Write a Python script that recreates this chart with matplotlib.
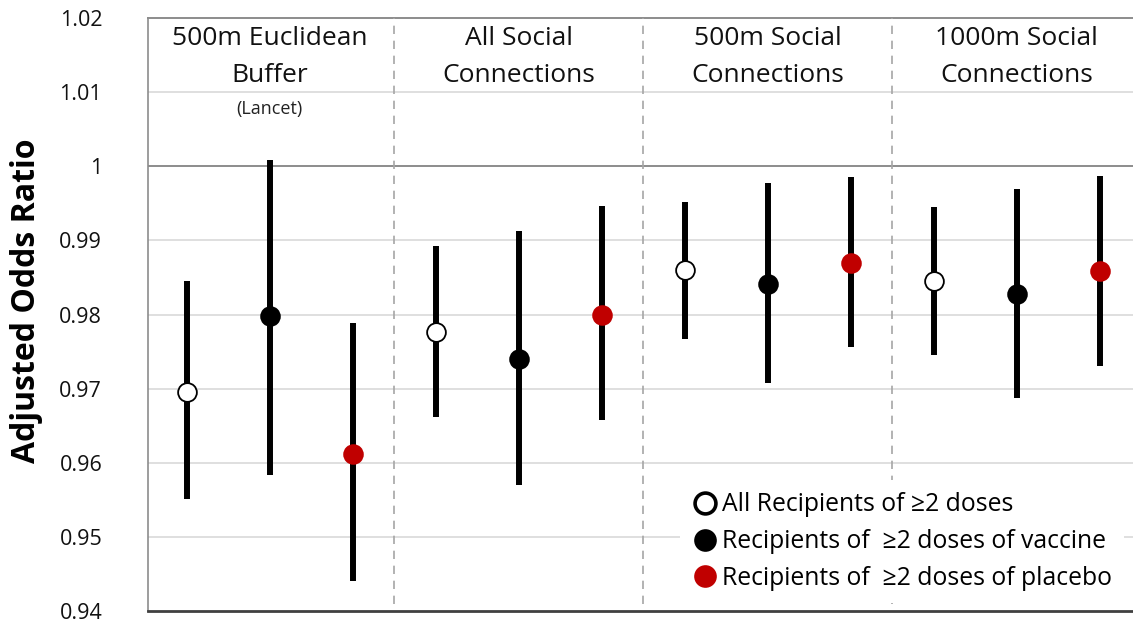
import matplotlib
matplotlib.use("Agg")
import matplotlib.pyplot as plt
from matplotlib.lines import Line2D

plt.rcParams['font.family'] = ['Open Sans', 'DejaVu Sans']

# groups and series
groups = ["500m Euclidean\nBuffer", "All Social\nConnections",
          "500m Social\nConnections", "1000m Social\nConnections"]
series = ["All Recipients of \u22652 doses",
          "Recipients of  \u22652 doses of vaccine",
          "Recipients of  \u22652 doses of placebo"]

# per group: [all, vaccine, placebo]
est = [[0.9696, 0.9798, 0.9612],
       [0.9777, 0.9740, 0.9800],
       [0.9860, 0.9841, 0.9870],
       [0.9845, 0.9827, 0.9859]]
lower = [[0.9551, 0.9584, 0.9441],
         [0.9662, 0.9570, 0.9657],
         [0.9767, 0.9708, 0.9756],
         [0.9746, 0.9687, 0.9731]]
upper = [[0.9845, 1.0009, 0.9788],
         [0.9893, 0.9912, 0.9946],
         [0.9952, 0.9977, 0.9985],
         [0.9945, 0.9969, 0.9987]]

face = ["white", "black", "#c00000"]
edge = ["black", "black", "#c00000"]

fig = plt.figure(figsize=(11.33, 6.26), dpi=100)
ax = fig.add_axes([0.1306, 0.024, 0.8694, 0.9472])

for g in range(len(groups)):
    for s in range(3):
        x = g * 3 + s + 1
        ax.vlines(x, lower[g][s], upper[g][s], color="black", lw=4.3, zorder=3)
        ax.plot(x, est[g][s], "o", ms=13.5, mfc=face[s], mec=edge[s],
                mew=1.3, zorder=4)

# light grid + reference lines
for v in [0.95, 0.96, 0.97, 0.98, 0.99, 1.01]:
    ax.axhline(v, color="#d9d9d9", lw=1.2, zorder=1)
ax.axhline(1.0, color="#8c8c8c", lw=1.4, zorder=1)
ax.axhline(1.02, color="#8c8c8c", lw=1.4, zorder=1, clip_on=False)

# dashed group dividers
for g in range(1, len(groups)):
    ax.vlines(g * 3 + 0.5, 0.941, 1.02, color="#a6a6a6", lw=1.2,
              linestyles=(0, (5, 4)), zorder=2)

# group titles, one line at a time
for g, name in enumerate(groups):
    line1, line2 = name.split("\n")
    ax.text(g * 3 + 2, 1.0173, line1, ha="center", va="center", fontsize=19,
            color="#111111")
    ax.text(g * 3 + 2, 1.0123, line2, ha="center", va="center", fontsize=19,
            color="#111111")
ax.text(2, 1.0077, "(Lancet)", ha="center", va="center", fontsize=13,
        color="#222222")

ax.set_xlim(0.534, 12.4)
ax.set_ylim(0.94, 1.02)
ax.set_yticks([0.94, 0.95, 0.96, 0.97, 0.98, 0.99, 1.0, 1.01, 1.02])
ax.set_yticklabels(["0.94", "0.95", "0.96", "0.97", "0.98", "0.99", "1",
                    "1.01", "1.02"])
ax.tick_params(axis="y", length=0, pad=33, labelsize=15.5, labelcolor="#111111")
ax.set_xticks([])
ax.set_ylabel("Adjusted Odds Ratio", fontsize=23, fontweight="bold")
ax.yaxis.set_label_coords(-0.107, 0.523)

for side in ["top", "right"]:
    ax.spines[side].set_visible(False)
ax.spines["left"].set_color("#8c8c8c")
ax.spines["left"].set_linewidth(1.2)
ax.spines["bottom"].set_color("#404040")
ax.spines["bottom"].set_linewidth(2)

handles = [Line2D([], [], ls="none", marker="o", ms=15, mfc=face[i],
                  mec=edge[i], mew=2.6 if i == 0 else 1.3)
           for i in range(3)]
leg = ax.legend(handles, series, loc="upper left",
                bbox_to_anchor=(680 / 1133, 1 - 480 / 626),
                bbox_transform=fig.transFigure, fontsize=17.8, frameon=True,
                handletextpad=0.2, labelspacing=0.48, borderpad=0.5,
                handlelength=1.0, borderaxespad=0)
leg.get_frame().set_edgecolor("none")
leg.get_frame().set_facecolor("white")
leg.get_frame().set_alpha(1)
leg.set_zorder(5)

fig.savefig("out.png", dpi=100)
